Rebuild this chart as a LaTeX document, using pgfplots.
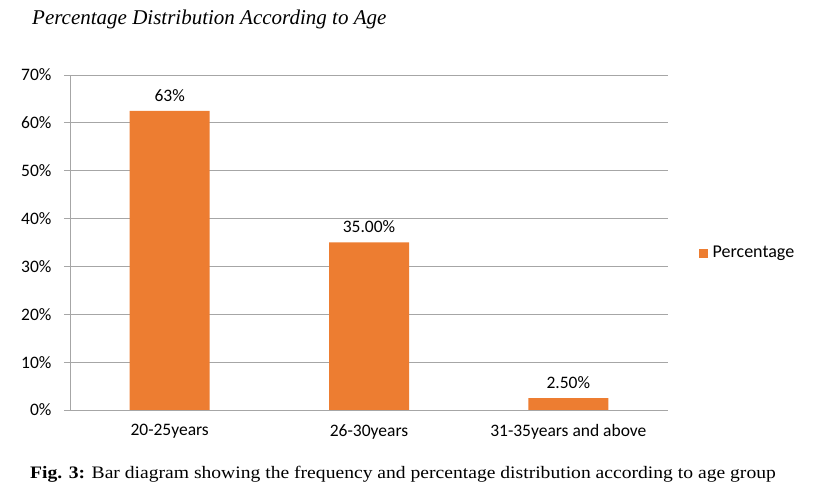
\documentclass[border=0pt]{standalone}
\usepackage{pgfplots}
\pgfplotsset{compat=1.18}
\usepackage{fontspec}
\setmainfont{Liberation Serif}
\newfontfamily\calibri{Carlito}
\newfontfamily\widserif[FakeStretch=1.12]{Liberation Serif}
\definecolor{barorange}{HTML}{ED7D31}
\definecolor{gridgray}{HTML}{A6A6A6}
\begin{document}
\begin{tikzpicture}[x=1pt,y=1pt]
\path[use as bounding box] (0,0) rectangle (822,503);
\begin{axis}[
  at={(70pt,93pt)}, anchor=south west,
  scale only axis, width=598pt, height=335pt,
  xmin=-0.5, xmax=2.5, ymin=0, ymax=70,
  ytick={0,10,...,70},
  yticklabel={\pgfmathprintnumber{\tick}\%},
  xtick={0,1,2},
  xticklabels={20-25years,26-30years,31-35years and above},
  extra x ticks={-0.5,0.5,1.5,2.5},
  extra x tick labels={},
  extra x tick style={major tick length=6pt, tick style={gridgray, line width=0.8pt}, tick align=outside, grid=none},
  x tick style={draw=none},
  y tick style={gridgray, line width=0.8pt},
  major tick length=6pt,
  tick align=outside,
  ymajorgrids, grid style={gridgray, line width=0.8pt},
  axis x line*=bottom, axis y line*=left,
  axis line style={gridgray, line width=0.8pt, -},
  ticklabel style={font=\calibri\fontsize{17.5}{20}\selectfont, text=black},
  /pgf/number format/assume math mode=true,
  yticklabel style={xshift=-9pt},
  xticklabel style={yshift=-5pt},
  ybar, bar width=80pt,
  point meta=explicit symbolic,
  nodes near coords,
  nodes near coords style={font=\calibri\fontsize{17.5}{20}\selectfont, text=black, yshift=6pt},
]
\addplot[fill=barorange, draw=none] coordinates {(0,62.5) [63\%] (1,35) [35.00\%] (2,2.5) [2.50\%]};
\end{axis}
\fill[barorange] (699,245) rectangle (708,254);
\node[anchor=west, font=\calibri\fontsize{18}{20}\selectfont, inner sep=0pt] at (712.5,249.5) {Percentage};
\node[anchor=west, font=\itshape\fontsize{21}{23}\selectfont, inner sep=0pt] at (32,484) {Percentage Distribution According to Age};
\node[anchor=center, font=\widserif\fontsize{17.5}{20}\selectfont, inner sep=0pt] at (403,29) {\textbf{Fig. 3:} Bar diagram showing the frequency and percentage distribution according to age group};
\end{tikzpicture}
\end{document}
